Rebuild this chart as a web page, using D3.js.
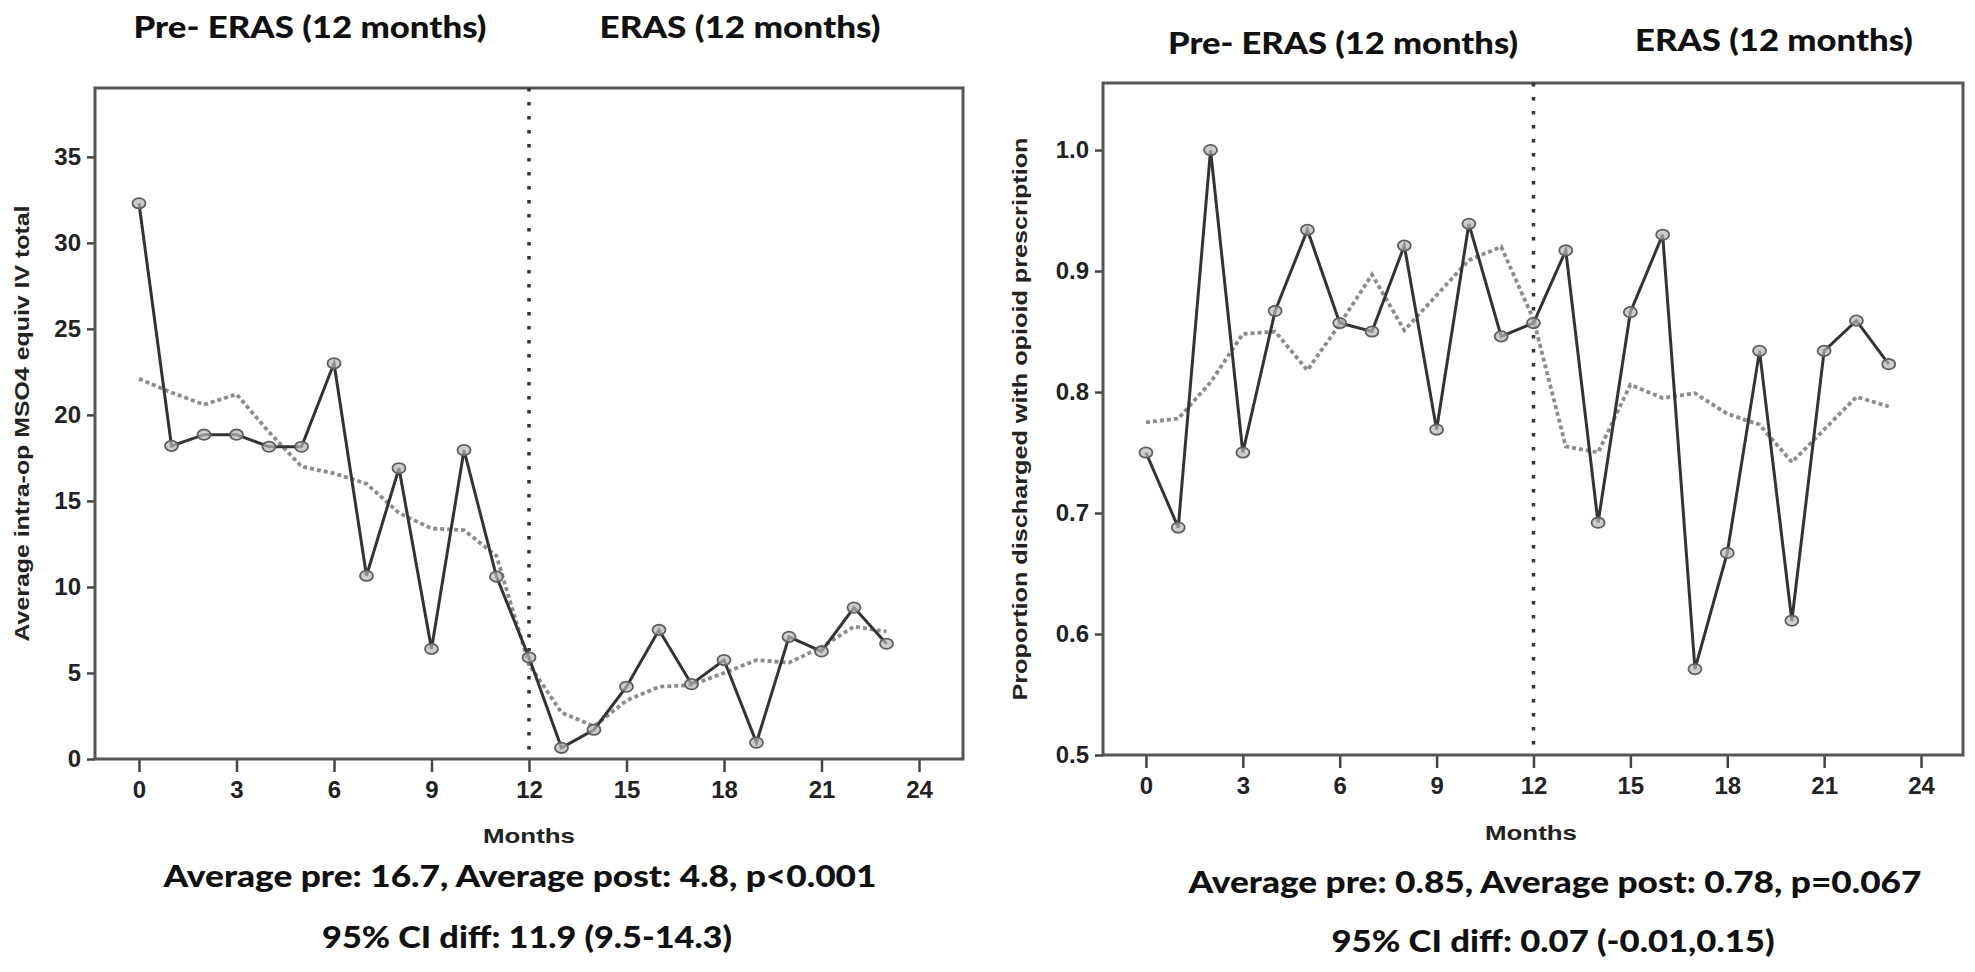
<!DOCTYPE html>
<html>
<head>
<meta charset="utf-8">
<script src="https://cdn.jsdelivr.net/npm/d3@7/dist/d3.min.js"></script>
<style>
  body { margin: 0; background: #fff; }
  svg { display: block; }
  .tick text { font-family: "Liberation Sans", Arial, sans-serif; font-weight: bold; font-size: 24px; fill: #222; }
  .tick line { stroke: #444; stroke-width: 2.5; }
  .lab { font-family: "Liberation Sans", Arial, sans-serif; font-weight: bold; fill: #222; }
  .cal { font-family: Lato, "Open Sans", sans-serif; font-weight: 900; fill: #111; }
</style>
</head>
<body>
<div id="chart"></div>
<script>

// months since start (0-11 pre ERAS, 12-23 ERAS)
const months = [0,1,2,3,4,5,6,7,8,9,10,11,12,13,14,15,16,17,18,19,20,21,22,23];
const monthTicks = [0,3,6,9,12,15,18,21,24];

// left: average intra-op MSO4 equiv IV total
const intraOp = [32.3,18.2,18.85,18.85,18.15,18.15,23.0,10.65,16.9,6.4,17.95,10.6,
                 5.9,0.65,1.7,4.2,7.5,4.35,5.75,0.95,7.1,6.25,8.8,6.7];
const intraOpTrend = [22.1,21.3,20.6,21.2,19.0,17.0,16.6,16.0,14.3,13.4,13.3,11.8,
                      5.5,2.7,1.9,3.4,4.2,4.3,5.0,5.75,5.6,6.5,7.7,7.4];
const intraOpTicks = [0,5,10,15,20,25,30,35];

// right: proportion discharged with opioid prescription
const discharge = [0.750,0.688,1.000,0.750,0.867,0.934,0.857,0.850,0.921,0.769,0.939,0.846,
                   0.857,0.917,0.692,0.866,0.930,0.571,0.667,0.834,0.611,0.834,0.859,0.823];
const dischargeTrend = [0.775,0.778,0.808,0.848,0.850,0.818,0.856,0.897,0.851,0.880,0.909,0.920,
                        0.860,0.755,0.750,0.806,0.795,0.799,0.782,0.773,0.742,0.769,0.796,0.788];
const dischargeTicks = [0.5,0.6,0.7,0.8,0.9,1.0];

const eraStart = 12;

const svg = d3.select("#chart").append("svg")
  .attr("width", 1975)
  .attr("height", 972);

function drawPanel(p) {
  const x = d3.scaleLinear().domain(p.xDomain).range([p.left, p.right]);
  const y = d3.scaleLinear().domain(p.yDomain).range([p.bottom, p.top]);
  const g = svg.append("g");

  // axes
  const xAxis = g.append("g")
    .attr("transform", `translate(0,${p.bottom})`)
    .call(d3.axisBottom(x).tickValues(monthTicks).tickSize(13).tickPadding(9).tickSizeOuter(0));
  xAxis.select(".domain").remove();

  const yAxis = g.append("g")
    .attr("transform", `translate(${p.left},0)`)
    .call(d3.axisLeft(y).tickValues(p.yTicks).tickFormat(p.yFormat).tickSize(8).tickPadding(6).tickSizeOuter(0));
  yAxis.select(".domain").remove();

  // frame
  g.append("rect")
    .attr("x", p.left).attr("y", p.top)
    .attr("width", p.right - p.left).attr("height", p.bottom - p.top)
    .attr("fill", "none").attr("stroke", "#555").attr("stroke-width", 3);

  // intervention line
  g.append("line")
    .attr("x1", x(eraStart)).attr("x2", x(eraStart))
    .attr("y1", p.top).attr("y2", p.bottom)
    .attr("stroke", "#333").attr("stroke-width", 3.5)
    .attr("stroke-dasharray", "3.5,10.5");

  const line = d3.line().x((d, i) => x(months[i])).y(d => y(d));

  // smoothed trend
  g.append("path")
    .datum(p.trend)
    .attr("d", line)
    .attr("fill", "none")
    .attr("stroke", "#8c8c8c")
    .attr("stroke-width", 3.8)
    .attr("stroke-dasharray", "4,3");

  // observed
  g.append("path")
    .datum(p.values)
    .attr("d", line)
    .attr("fill", "none")
    .attr("stroke", "#333")
    .attr("stroke-width", 3);

  g.selectAll(".pt")
    .data(p.values)
    .enter()
    .append("ellipse")
    .attr("cx", (d, i) => x(months[i]))
    .attr("cy", d => y(d))
    .attr("rx", 6.5)
    .attr("ry", 5.2)
    .attr("fill", "#b8b8b8")
    .attr("fill-opacity", 0.7)
    .attr("stroke", "#5e5e5e")
    .attr("stroke-width", 1.8);

  // axis titles
  g.append("text")
    .attr("class", "lab")
    .attr("x", p.monthsX).attr("y", p.monthsY)
    .attr("text-anchor", "middle")
    .attr("font-size", 21)
    .attr("textLength", 92).attr("lengthAdjust", "spacingAndGlyphs")
    .text("Months");

  g.append("text")
    .attr("class", "lab")
    .attr("transform", `translate(${p.yLabelX},${(p.top + p.bottom) / 2}) rotate(-90)`)
    .attr("text-anchor", "middle")
    .attr("font-size", 21)
    .attr("textLength", p.yLabelLen).attr("lengthAdjust", "spacingAndGlyphs")
    .text(p.yLabel);

  // period titles and summary text
  p.texts.forEach(t => {
    g.append("text")
      .attr("class", "cal")
      .attr("x", t.x).attr("y", t.y)
      .attr("text-anchor", "middle")
      .attr("font-size", t.size)
      .attr("textLength", t.w).attr("lengthAdjust", "spacingAndGlyphs")
      .text(t.text);
  });
}

drawPanel({
  left: 95, right: 963, top: 88, bottom: 759,
  xDomain: [-1.354, 25.354], yDomain: [0, 39.0],
  yTicks: intraOpTicks, yFormat: d3.format("d"),
  values: intraOp, trend: intraOpTrend,
  monthsX: 529, monthsY: 843,
  yLabel: "Average intra-op MSO4 equiv IV total", yLabelX: 29, yLabelLen: 436,
  texts: [
    { text: "Pre- ERAS (12 months)", x: 310, y: 38, w: 353, size: 31 },
    { text: "ERAS (12 months)", x: 740, y: 38, w: 281, size: 31 },
    { text: "Average pre: 16.7, Average post: 4.8, p<0.001", x: 520, y: 887, w: 713, size: 30 },
    { text: "95% CI diff: 11.9 (9.5-14.3)", x: 527, y: 948, w: 410, size: 30 }
  ]
});

drawPanel({
  left: 1103, right: 1963, top: 83, bottom: 755,
  xDomain: [-1.33, 25.3], yDomain: [0.5, 1.0554],
  yTicks: dischargeTicks, yFormat: d3.format(".1f"),
  values: discharge, trend: dischargeTrend,
  monthsX: 1531, monthsY: 840,
  yLabel: "Proportion discharged with opioid prescription", yLabelX: 1027, yLabelLen: 563,
  texts: [
    { text: "Pre- ERAS (12 months)", x: 1343, y: 54, w: 350, size: 31 },
    { text: "ERAS (12 months)", x: 1774, y: 51, w: 278, size: 31 },
    { text: "Average pre: 0.85, Average post: 0.78, p=0.067", x: 1555, y: 893, w: 733, size: 30 },
    { text: "95% CI diff: 0.07 (-0.01,0.15)", x: 1553, y: 952, w: 443, size: 30 }
  ]
});

</script>
</body>
</html>
